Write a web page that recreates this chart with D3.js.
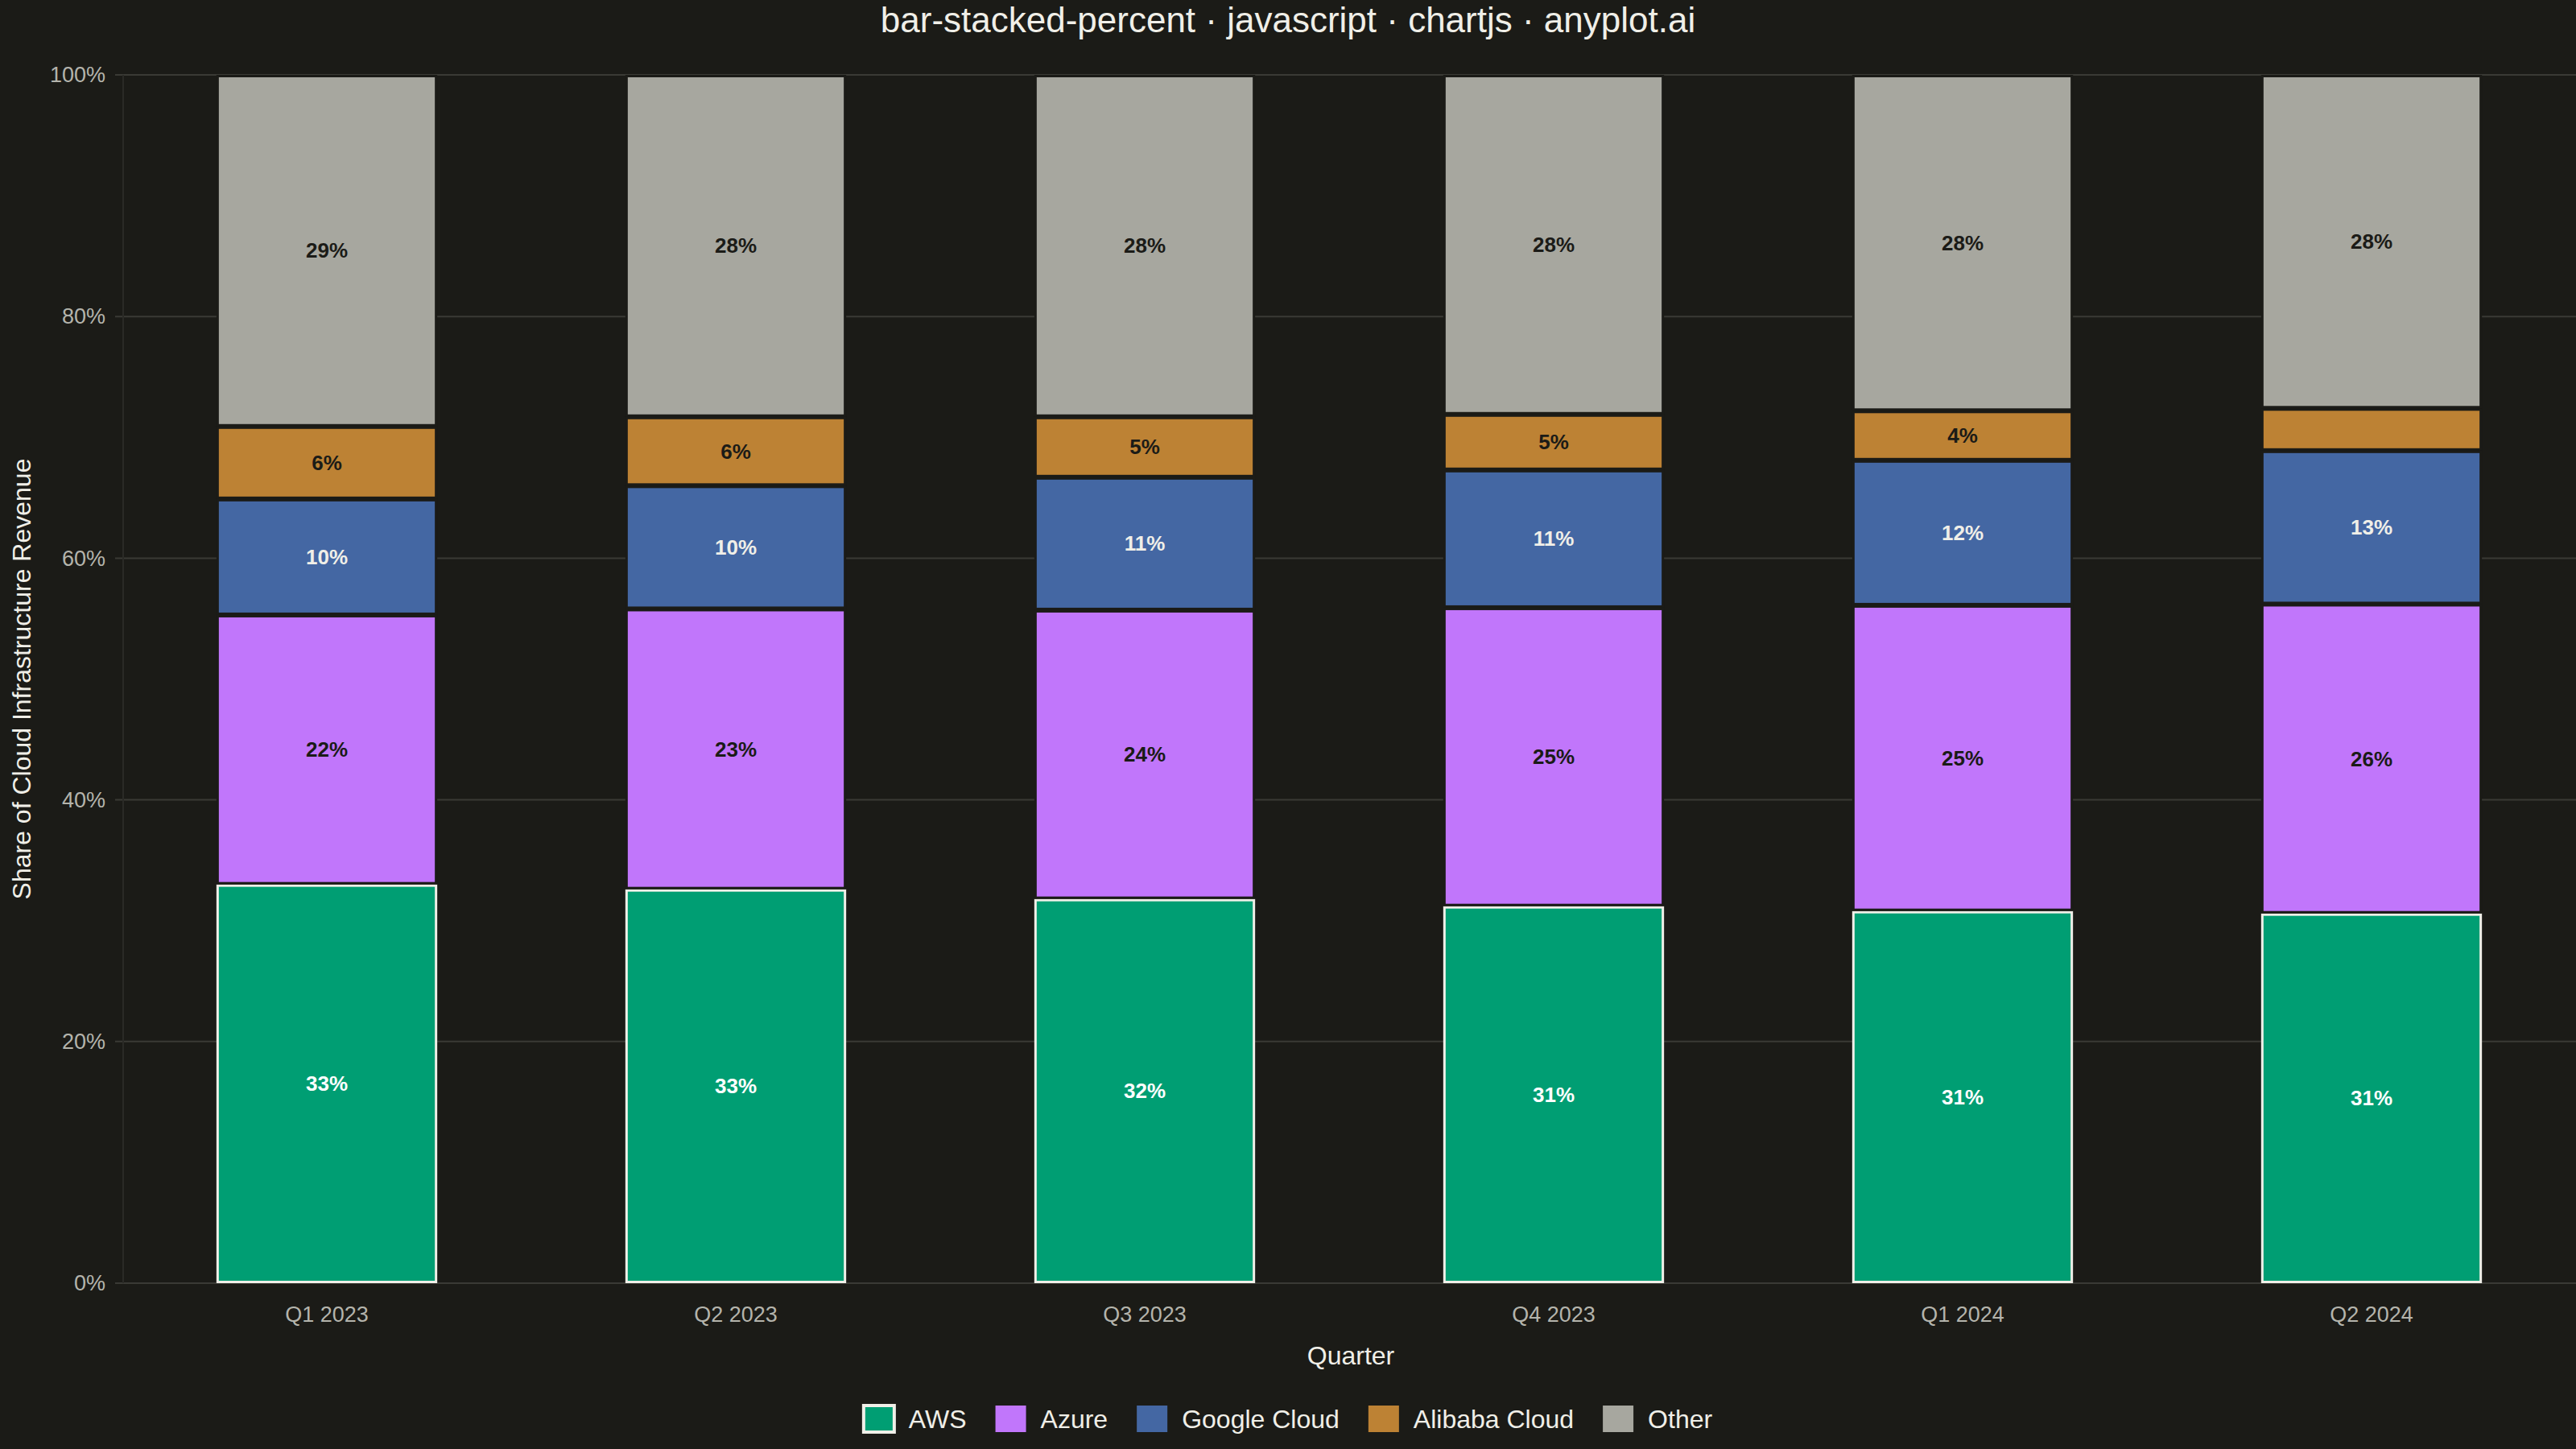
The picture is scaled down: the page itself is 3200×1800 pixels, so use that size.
<!DOCTYPE html>
<html>
<head>
<meta charset="utf-8">
<script src="https://cdn.jsdelivr.net/npm/d3@7"></script>
<style>
  html, body { margin: 0; padding: 0; background: #1b1b17; }
  svg { display: block; font-family: "Liberation Sans", Arial, sans-serif; }
</style>
</head>
<body>
<svg width="3200" height="1800"></svg>
<script>
// quarters and provider shares (percent of revenue)
const quarters = ["Q1 2023", "Q2 2023", "Q3 2023", "Q4 2023", "Q1 2024", "Q2 2024"];
const aws = [33.0, 32.6, 31.8, 31.2, 30.8, 30.6];
const azure = [22.3, 23.2, 23.9, 24.7, 25.3, 25.6];
const google = [9.6, 10.2, 11.0, 11.4, 12.0, 12.7];
const alibaba = [6.0, 5.7, 5.0, 4.6, 4.1, 3.5];
const other = [29.1, 28.3, 28.3, 28.1, 27.8, 27.6];
const providers = ["AWS", "Azure", "Google Cloud", "Alibaba Cloud", "Other"];
const yTicks = [0, 0.2, 0.4, 0.6, 0.8, 1];

const colors = {
  "AWS": "#009e73",
  "Azure": "#c176fb",
  "Google Cloud": "#4467a3",
  "Alibaba Cloud": "#bd8234",
  "Other": "#a7a79f"
};
const labelColors = {
  "AWS": "#ffffff",
  "Azure": "#1b1b17",
  "Google Cloud": "#f0efe8",
  "Alibaba Cloud": "#1b1b17",
  "Other": "#1b1b17"
};
const bg = "#1b1b17";
const ink = "#f0efe8";
const muted = "#b4b4ac";

const series = [aws, azure, google, alibaba, other];
const rows = quarters.map((q, i) => {
  const r = { quarter: q };
  providers.forEach((p, k) => { r[p] = series[k][i]; });
  return r;
});

const stacked = d3.stack().keys(providers).offset(d3.stackOffsetExpand)(rows);

const svg = d3.select("svg");
svg.append("rect").attr("width", 3200).attr("height", 1800).attr("fill", bg);

const x = d3.scaleBand().domain(quarters).range([152, 3200])
  .paddingInner(0.46).paddingOuter(0.23);
const y = d3.scaleLinear().domain([0, 1]).range([1594, 93]);

// grid lines
svg.append("g")
  .selectAll("line")
  .data(yTicks)
  .join("line")
  .attr("x1", 143)
  .attr("x2", 3200)
  .attr("y1", d => y(d))
  .attr("y2", d => y(d))
  .attr("stroke", "#3a3a35")
  .attr("stroke-width", 2);

svg.append("line")
  .attr("x1", 153).attr("x2", 153)
  .attr("y1", y(1)).attr("y2", y(0))
  .attr("stroke", "#2a2a26").attr("stroke-width", 2);

// y axis
const yAxis = d3.axisLeft(y).tickValues(yTicks).tickFormat(d3.format(".0%")).tickSize(0).tickPadding(0);
svg.append("g")
  .attr("transform", "translate(131,0)")
  .call(yAxis)
  .call(g => g.select(".domain").remove())
  .selectAll("text")
  .attr("fill", muted)
  .style("font-size", "27px")
  .style("font-family", "'Liberation Sans', Arial, sans-serif");

// x axis
const xAxis = d3.axisBottom(x).tickSize(0).tickPadding(0);
svg.append("g")
  .attr("transform", "translate(0,1623)")
  .call(xAxis)
  .call(g => g.select(".domain").remove())
  .selectAll("text")
  .attr("fill", muted)
  .style("font-size", "27px")
  .style("font-family", "'Liberation Sans', Arial, sans-serif");

// bars
const bw = 3;
const layers = svg.append("g")
  .selectAll("g")
  .data(stacked)
  .join("g");

layers.selectAll("rect")
  .data(s => s.map(d => Object.assign({ key: s.key }, d)))
  .join("rect")
  .attr("x", d => x(d.data.quarter) + bw / 2)
  .attr("y", d => y(d[1]) + bw / 2)
  .attr("width", x.bandwidth() - bw)
  .attr("height", d => Math.max(0, y(d[0]) - y(d[1]) - bw))
  .attr("fill", d => colors[d.key])
  .attr("stroke", d => d.key === "AWS" ? ink : bg)
  .attr("stroke-width", bw);

// segment labels
layers.selectAll("text")
  .data(s => s.map(d => Object.assign({ key: s.key }, d)).filter(d => (d[1] - d[0]) >= 0.04))
  .join("text")
  .attr("x", d => x(d.data.quarter) + x.bandwidth() / 2)
  .attr("y", d => (y(d[0]) + y(d[1])) / 2)
  .attr("text-anchor", "middle")
  .attr("dominant-baseline", "central")
  .attr("fill", d => labelColors[d.key])
  .style("font-size", "26px")
  .style("font-weight", "bold")
  .text(d => Math.round((d[1] - d[0]) * 100) + "%");

// title
svg.append("text")
  .attr("x", 1600).attr("y", 40)
  .attr("text-anchor", "middle")
  .attr("fill", ink)
  .style("font-size", "44px")
  .text("bar-stacked-percent · javascript · chartjs · anyplot.ai");

// axis titles
svg.append("text")
  .attr("x", 1678).attr("y", 1695)
  .attr("text-anchor", "middle")
  .attr("fill", ink)
  .style("font-size", "32px")
  .text("Quarter");

svg.append("text")
  .attr("transform", "translate(38," + ((y(0) + y(1)) / 2) + ") rotate(-90)")
  .attr("text-anchor", "middle")
  .attr("fill", ink)
  .style("font-size", "32px")
  .text("Share of Cloud Infrastructure Revenue");

// legend
const legend = svg.append("g");
const items = legend.selectAll("g")
  .data(providers)
  .join("g");

items.append("rect")
  .attr("width", 38)
  .attr("height", 33)
  .attr("y", -17)
  .attr("fill", d => colors[d])
  .attr("stroke", d => d === "AWS" ? ink : "none")
  .attr("stroke-width", 4);

items.append("text")
  .attr("x", 56)
  .attr("dominant-baseline", "central")
  .attr("fill", ink)
  .style("font-size", "32px")
  .text(d => d);

let cursor = 0;
const offsets = [];
items.each(function () {
  const w = 56 + this.querySelector("text").getComputedTextLength();
  offsets.push(cursor);
  cursor += w + 36;
});
const total = cursor - 36;
items.attr("transform", (d, i) => "translate(" + offsets[i] + ",0)");
legend.attr("transform", "translate(" + (1600 - total / 2) + ",1763)");
</script>
</body>
</html>
